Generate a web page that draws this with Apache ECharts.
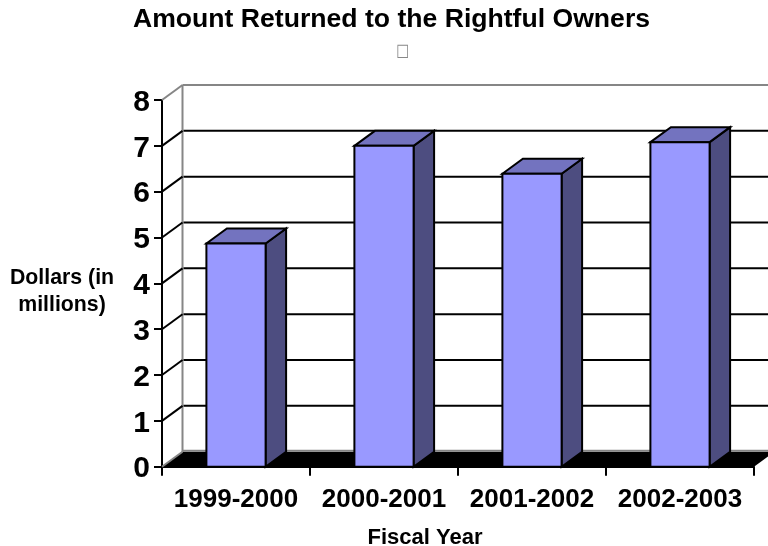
<!DOCTYPE html>
<html><head><meta charset="utf-8">
<style>html,body{margin:0;padding:0;background:#fff}#c{width:768px;height:546px}</style>
<script src="https://cdn.jsdelivr.net/npm/echarts@6/dist/echarts.min.js"></script>
</head><body><div id="c"></div>
<script>
const categories = ['1999-2000', '2000-2001', '2001-2002', '2002-2003'];
const amounts = [4.87, 7.0, 6.39, 7.08];
const yTicks = [0, 1, 2, 3, 4, 5, 6, 7, 8];
const titleText = 'Amount Returned to the Rightful Owners';
const xName = 'Fiscal Year';
const yName = 'Dollars (in\nmillions)';

const DX = 20.5, DY = 15;
const FONT = '"Liberation Sans", Arial, sans-serif';
const chart = echarts.init(document.getElementById('c'), null, {renderer: 'canvas'});

function wallItem(params, api) {
  const v = api.value(0);
  const cs = params.coordSys;
  const y = api.coord([0, v])[1];
  const x0 = cs.x, x1 = cs.x + cs.width;
  const gray = '#868686', kids = [];
  const line = (a, b, c, d, col, w) => ({type: 'line', shape: {x1: a, y1: b, x2: c, y2: d}, style: {stroke: col, lineWidth: w}});
  if (v === 0) {
    kids.push({type: 'polygon', shape: {points: [[x0, y], [x0 + DX, y - DY], [x1 + DX, y - DY], [x1, y]]}, style: {fill: '#000'}});
    kids.push(line(x0 + DX, y - DY - 1, x1 + DX, y - DY - 1, gray, 2));
    kids.push(line(x0, y, x0 + DX, y - DY, gray, 2));
    const top = api.coord([0, yTicks[yTicks.length - 1]])[1];
    kids.push(line(x0 + DX, top - DY, x0 + DX, y - DY, gray, 2));
  } else if (v === yTicks[yTicks.length - 1]) {
    kids.push(line(x0 + DX, y - DY, x1 + DX, y - DY, gray, 2));
    kids.push(line(x0, y, x0 + DX, y - DY, gray, 2));
  } else {
    kids.push(line(x0 + DX + 1, y - DY, x1 + DX, y - DY, '#000', 2));
    kids.push(line(x0, y, x0 + DX, y - DY, '#000', 2));
  }
  return {type: 'group', children: kids};
}

function barItem(params, api) {
  const c = api.coord([api.value(0), api.value(1)]);
  const base = api.coord([api.value(0), 0])[1];
  const w = api.size([1, 0])[0] * 0.4;
  const l = c[0] - w / 2, r = c[0] + w / 2, t = c[1];
  const s = {stroke: '#000', lineWidth: 2, lineJoin: 'miter'};
  return {type: 'group', children: [
    {type: 'polygon', shape: {points: [[r, t], [r + DX, t - DY], [r + DX, base - DY], [r, base]]}, style: Object.assign({fill: '#4D4D80'}, s)},
    {type: 'polygon', shape: {points: [[l, t], [l + DX, t - DY], [r + DX, t - DY], [r, t]]}, style: Object.assign({fill: '#7373BF'}, s)},
    {type: 'rect', shape: {x: l, y: t, width: w, height: base - t}, style: Object.assign({fill: '#9999FF'}, s)}
  ]};
}

const tickFont = {fontFamily: FONT, fontWeight: 'bold', fontSize: 30, color: '#000'};

chart.setOption({
  animation: false,
  backgroundColor: '#fff',
  title: {
    text: titleText, left: 386.5, top: 1, textAlign: 'center',
    textStyle: {fontFamily: FONT, fontWeight: 'bold', fontSize: 26.6, color: '#000'}
  },
  graphic: [{
    type: 'text', x: 402.5, y: 51, scaleY: 1.27,
    style: {text: '\u25A1', font: '14px "DejaVu Sans"', fill: '#888', align: 'center', verticalAlign: 'middle'}
  }, {
    type: 'text', x: 62, y: 291.5,
    style: {text: yName, font: 'bold 21.3px "Liberation Sans", Arial, sans-serif', lineHeight: 27, fill: '#000', align: 'center', verticalAlign: 'middle'}
  }],
  grid: {left: 162, right: 14, top: 100, bottom: 79.3, outerBoundsMode: 'none'},
  xAxis: {
    type: 'category', data: categories, boundaryGap: true,
    name: xName, nameLocation: 'middle', nameGap: 60,
    nameTextStyle: {fontFamily: FONT, fontWeight: 'bold', fontSize: 22, color: '#000', padding: [0, 66, 0, 0]},
    axisLine: {lineStyle: {color: '#000', width: 2}},
    axisTick: {show: true, alignWithLabel: false, length: 9, lineStyle: {color: '#000', width: 2}},
    axisLabel: {fontFamily: FONT, fontWeight: 'bold', fontSize: 26, color: '#000', margin: 20, interval: 0}
  },
  yAxis: {
    type: 'value', min: 0, max: 8, interval: 1,
    splitLine: {show: false},
    axisLine: {show: true, lineStyle: {color: '#000', width: 2}},
    axisTick: {show: true, length: 8, lineStyle: {color: '#000', width: 2}},
    axisLabel: Object.assign({}, tickFont, {
      margin: 12, formatter: '{n|{value}}',
      rich: {n: Object.assign({}, tickFont, {padding: [5, 0, 0, 0]})}
    })
  },
  series: [
    {type: 'custom', renderItem: wallItem, data: yTicks.map(v => [v]), encode: {y: 0}, clip: false, silent: true, z: 1},
    {type: 'custom', renderItem: barItem, data: amounts.map((v, i) => [i, v]), encode: {x: 0, y: 1}, clip: false, z: 2}
  ]
});
</script></body></html>
